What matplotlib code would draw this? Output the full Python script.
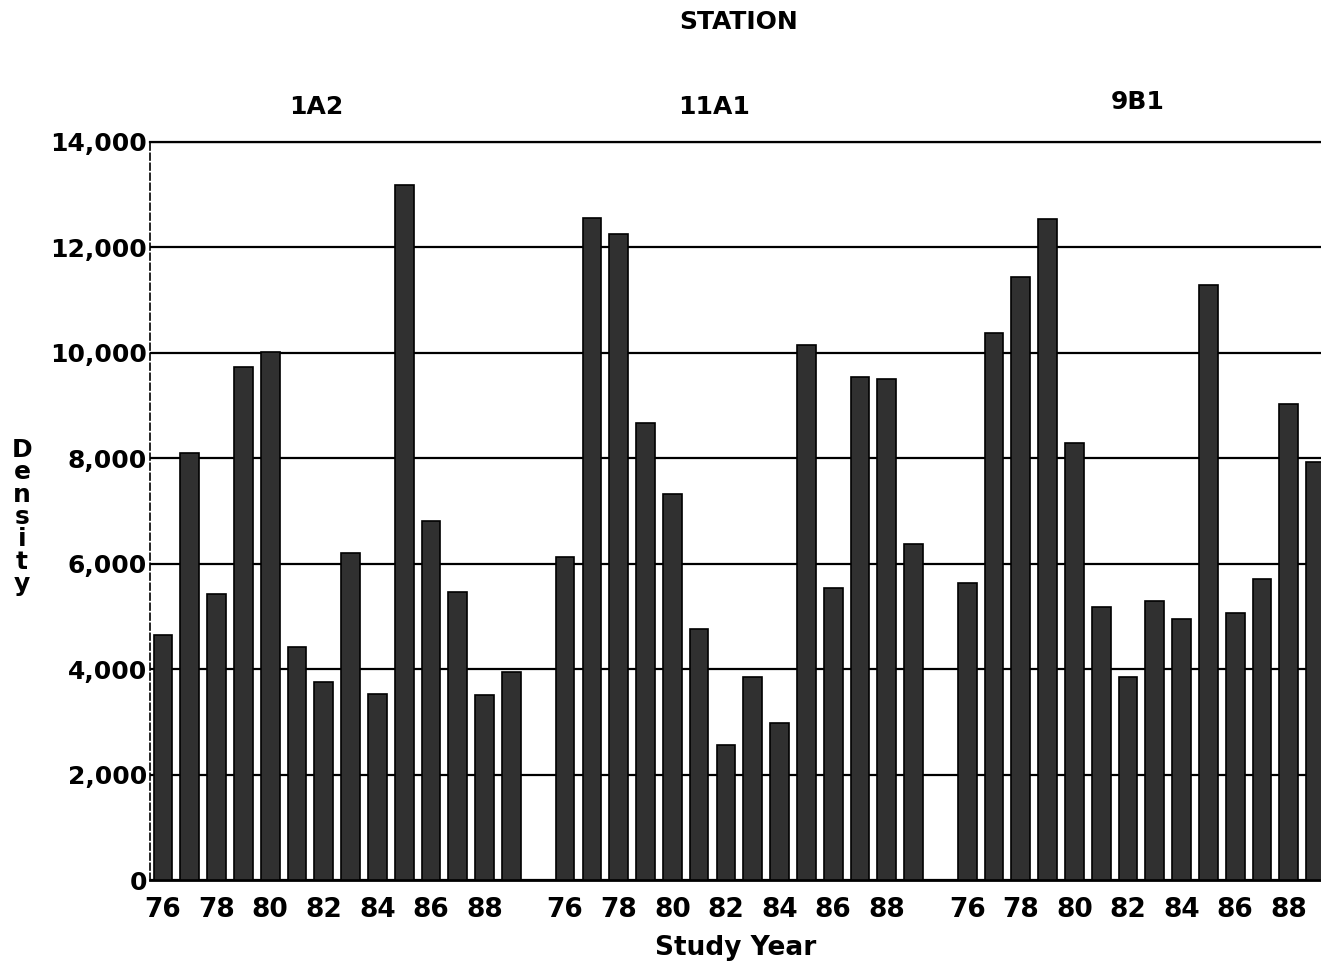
#Bar Plot
#Density by station and study year

import numpy as np
import matplotlib.pyplot as plt

plt.rcParams.update({'font.size': 18, 'font.family': 'DejaVu Sans', 'font.weight': 'bold',
                     'axes.labelweight': 'bold'})

stations = ["1A2", "11A1", "9B1"]
years = [76, 77, 78, 79, 80, 81, 82, 83, 84, 85, 86, 87, 88, 89]
year_labels = ["76", "78", "80", "82", "84", "86", "88"]

dens_1a2 = [4650, 8100, 5430, 9730, 10020, 4420, 3760, 6200, 3530, 13190, 6810, 5470, 3510, 3950]
dens_11a1 = [6130, 12560, 12260, 8670, 7320, 4760, 2560, 3850, 2980, 10150, 5540, 9540, 9500, 6380]
dens_9b1 = [5640, 10380, 11440, 12540, 8290, 5180, 3850, 5290, 4950, 11290, 5070, 5710, 9030, 7930]

data = [dens_1a2, dens_11a1, dens_9b1]
slot = len(years) + 1

fig = plt.figure(figsize=(13.21, 9.65), dpi=100)
ax = fig.add_axes([150/1321, 85/965, 1 - 150/1321, (880-142)/965])

for g, vals in enumerate(data):
    x = np.arange(len(years)) + g*slot
    ax.bar(x, vals, width=0.7, color='#303030', edgecolor='black', linewidth=1.2, zorder=3)

ax.set_ylim(0, 14000)
ax.set_xlim(-0.485, 43.2)
ax.set_yticks(range(0, 14001, 2000))
ax.get_yaxis().set_major_formatter(plt.FuncFormatter(lambda x, loc: "{:,}".format(int(x))))
ax.yaxis.grid(True, color='black', linewidth=1.6, zorder=0)

xt = []
xl = []
for g in range(len(stations)):
    for i, y in enumerate(years):
        if str(y) in year_labels:
            xt.append(g*slot + i)
            xl.append(str(y))
ax.set_xticks(xt)
ax.set_xticklabels(xl, fontsize=19)
ax.tick_params(axis='both', length=0)
ax.tick_params(axis='x', pad=12)
ax.tick_params(axis='y', pad=2, labelsize=18)

ax.spines['top'].set_linewidth(1.6)
ax.spines['right'].set_visible(False)
ax.spines['left'].set_linestyle((0, (4, 2)))
ax.spines['left'].set_linewidth(1.2)
ax.spines['bottom'].set_linewidth(2)

ax.set_xlabel("Study Year", fontsize=19, labelpad=9)
fig.text(22/1321, 1 - 517/965, "D\ne\nn\ns\ni\nt\ny", fontsize=18,
         ha='center', va='center', linespacing=0.92)

lab_x = [5.71, 20.56, 36.38]
lab_y = [14660, 14660, 14760]
for s, lx, ly in zip(stations, lab_x, lab_y):
    ax.text(lx, ly, s, ha='center', va='center', fontsize=18)
ax.text(21.49, 16277, "STATION", ha='center', va='center', fontsize=18)

plt.savefig("out.png", dpi=100)
